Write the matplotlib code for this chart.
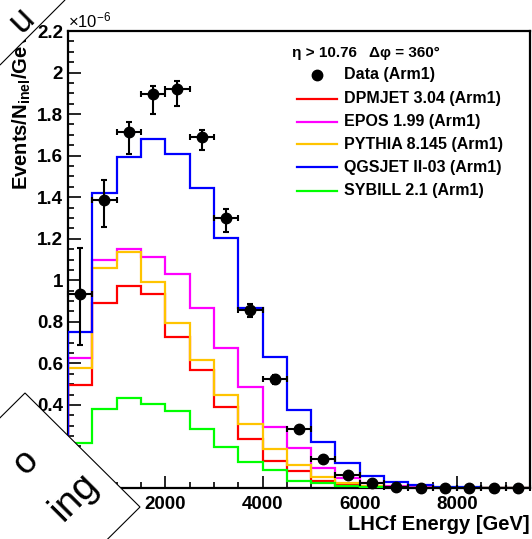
import numpy as np
import matplotlib
matplotlib.use("Agg")
import matplotlib.pyplot as plt
from matplotlib.lines import Line2D
from matplotlib.patches import Polygon

plt.rcParams['font.family'] = ['Liberation Sans', 'DejaVu Sans']
plt.rcParams['mathtext.fontset'] = 'custom'
plt.rcParams['mathtext.rm'] = 'Liberation Sans'
plt.rcParams['mathtext.bf'] = 'Liberation Sans:bold'
plt.rcParams['mathtext.it'] = 'Liberation Sans:italic'

# ---------------- data (units of 1e-6) ----------------
bin_edges = np.arange(0, 9501, 500)
bin_centers = (bin_edges[:-1] + bin_edges[1:]) / 2

data_vals = [0.933, 1.387, 1.716, 1.895, 1.920, 1.688, 1.300, 0.857, 0.523, 0.283,
             0.140, 0.063, 0.023, 0.006, 0.002, 0.001, 0.0006, 0.0004, 0.0002]
data_err_up = [0.22, 0.096, 0.048, 0.040, 0.041, 0.036, 0.045, 0.030, 0.020, 0.012,
               0.008, 0.005, 0.003, 0.001, 0.001, 0.0, 0.0, 0.0, 0.0]
data_err_lo = [0.245, 0.129, 0.108, 0.096, 0.079, 0.061, 0.070, 0.035, 0.020, 0.012,
               0.008, 0.005, 0.003, 0.001, 0.001, 0.0, 0.0, 0.0, 0.0]

dpmjet = [0.496, 0.892, 0.974, 0.932, 0.729, 0.568, 0.392, 0.235, 0.131, 0.083,
          0.035, 0.015, 0.006, 0.003, 0.001, 0.0005, 0.0002, 0.0001, 0.0]
epos = [0.624, 1.098, 1.149, 1.114, 1.030, 0.865, 0.676, 0.484, 0.292, 0.191,
        0.095, 0.050, 0.022, 0.010, 0.005, 0.002, 0.001, 0.0005, 0.0002]
pythia = [0.579, 1.058, 1.135, 0.993, 0.793, 0.616, 0.448, 0.306, 0.186, 0.110,
          0.054, 0.025, 0.011, 0.005, 0.002, 0.001, 0.0005, 0.0002, 0.0001]
qgsjet = [0.752, 1.420, 1.592, 1.682, 1.607, 1.446, 1.202, 0.866, 0.629, 0.376,
          0.223, 0.122, 0.058, 0.031, 0.013, 0.006, 0.003, 0.001, 0.0005]
sybill = [0.215, 0.379, 0.432, 0.404, 0.372, 0.283, 0.199, 0.127, 0.087, 0.035,
          0.023, 0.010, 0.004, 0.002, 0.001, 0.0005, 0.0002, 0.0001, 0.0]

models = [
    ("DPMJET 3.04 (Arm1)", dpmjet, "#ff0000"),
    ("EPOS 1.99 (Arm1)", epos, "#ff00ff"),
    ("PYTHIA 8.145 (Arm1)", pythia, "#ffc400"),
    ("QGSJET II-03 (Arm1)", qgsjet, "#0000ff"),
    ("SYBILL 2.1 (Arm1)", sybill, "#00ff00"),
]
header = "η > 10.76   Δφ = 360°"
x_title = "LHCf Energy [GeV]"
y_title = r"Events/N$_{\mathbf{inel}}$/GeV"

W, H = 532, 539
fig = plt.figure(figsize=(W / 100, H / 100), dpi=100)
ax = fig.add_axes([68 / W, 1 - 488 / H, (530 - 68) / W, (488 - 31) / H])

scale = 1e-6
for name, vals, col in models:
    ax.stairs(np.array(vals) * scale, bin_edges, color=col, lw=1.6, zorder=3)

ax.errorbar(bin_centers, np.array(data_vals) * scale,
            yerr=[np.array(data_err_lo) * scale, np.array(data_err_up) * scale],
            xerr=250, fmt='o', color='black', ms=7.5, lw=1.5, capsize=2.5,
            capthick=1.5, zorder=5, clip_on=False)

ax.set_xlim(0, 9500)
ax.set_ylim(0, 2.2e-6)
ax.set_xticks([0, 2000, 4000, 6000, 8000])
ax.set_xticks(np.arange(0, 9501, 500), minor=True)
yt = np.round(np.arange(0, 2.21, 0.2), 1)
ax.set_yticks(yt * scale)
ax.set_yticklabels([("%g" % v) for v in yt])
ax.set_yticks(np.arange(0, 2.2001, 0.05) * scale, minor=True)
ax.tick_params(which='both', direction='in', top=False, right=False, width=1.2,
               labelsize=13.5)
ax.tick_params(which='major', length=9)
ax.tick_params(which='minor', length=4.5)
ax.tick_params(axis='x', pad=6)
ax.tick_params(axis='y', pad=3.5)
for lab in ax.get_xticklabels() + ax.get_yticklabels():
    lab.set_fontweight('bold')
for sp in ax.spines.values():
    sp.set_linewidth(1.6)

fig.text(530 / W, 1 - 530 / H, x_title, ha='right', va='baseline',
         fontsize=14.5, fontweight='bold')
fig.text(11 / W, 1 - 190 / H, y_title, rotation=90, ha='left', va='bottom',
         fontsize=14.5, fontweight='bold')
fig.text(68 / W, 1 - 27 / H, r"×10$^{-6}$", ha='left', va='baseline', fontsize=12)

# legend
fig.text(292 / W, 1 - 57 / H, header, ha='left', va='baseline', fontsize=11,
         fontweight='bold')
fig.add_artist(Line2D([316.7 / W], [1 - 75 / H], marker='o', color='black', ms=7.5,
                      transform=fig.transFigure))
fig.text(344 / W, 1 - 75 / H, "Data (Arm1)", ha='left', va='center', fontsize=11.5,
         fontweight='bold')
rows = [99, 121.7, 144.3, 167.3, 190.5]
for (name, vals, col), yy in zip(models, rows):
    fig.add_artist(Line2D([297 / W, 337 / W], [1 - yy / H, 1 - yy / H], color=col,
                          lw=1.6, transform=fig.transFigure))
    fig.text(344 / W, 1 - yy / H, name, ha='left', va='center', fontsize=11.5,
             fontweight='bold')

# overlay stickers (corner patches on the reference image)
def px(pts):
    return [(x / W, 1 - y / H) for x, y in pts]

bl = Polygon(px([(25, 393), (140, 507), (25, 621), (-90, 507)]), closed=True,
             facecolor='white', edgecolor='black', lw=0.8,
             transform=fig.transFigure, zorder=20)
fig.add_artist(bl)
t1 = fig.text(74 / W, 1 - 497 / H, "ing", rotation=45, ha='center', va='center',
              fontsize=28, zorder=21)
t2 = fig.text(26 / W, 1 - 462 / H, "o", rotation=45, ha='center', va='center',
              fontsize=26, zorder=21)
t1.set_clip_path(bl)
t2.set_clip_path(bl)
tl = Polygon(px([(0, 65), (65, 0), (-50, -115), (-115, -50)]), closed=True,
             facecolor='white', edgecolor='black', lw=0.8,
             transform=fig.transFigure, zorder=20)
fig.add_artist(tl)
t3 = fig.text(22 / W, 1 - 20 / H, "u", rotation=45, ha='center', va='center',
              fontsize=26, zorder=21)
t3.set_clip_path(tl)

fig.savefig("out.png", dpi=100)
